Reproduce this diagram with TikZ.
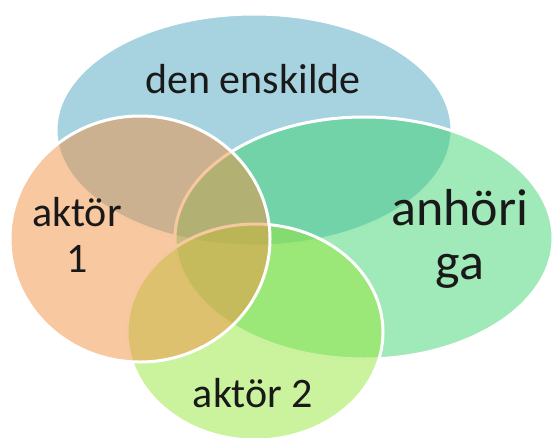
\documentclass[tikz,border=0pt]{standalone}
\usepackage{fontspec}
\setmainfont{Carlito}
\usetikzlibrary{shapes.geometric}

\definecolor{blueset}{RGB}{77,167,191}
\definecolor{greenset}{RGB}{65,211,113}
\definecolor{orangeset}{RGB}{241,145,65}
\definecolor{limeset}{RGB}{151,229,57}

\tikzset{
    venn/.style={ellipse, draw=white, line width=3pt, fill opacity=0.5, inner sep=0pt},
    vlabel/.style={anchor=base, align=center, text=black!90, font=\fontsize{42}{46}\selectfont}
}

\begin{document}
\begin{tikzpicture}[x=1pt,y=-1pt]
        \clip (0,0) rectangle (553,437);

        % Draw the sets, back to front
        \foreach \name/\x/\y/\w/\h/\col in {enskilde/254/130/396/232/blueset, anhorig/364/238/378/242/greenset, aktor2/255/332/256/216/limeset, aktor1/140/239/260/246/orangeset} {
            \node[venn, fill=\col, minimum width=\w pt, minimum height=\h pt] (\name) at (\x,\y) {};
        };

        % Labels (base = last line)
        \node[vlabel] (t-enskilde) at (253,93) {den enskilde};
        \node[vlabel] (t-aktor1) at (77,272) {aktör\\1};
        \node[vlabel, font=\fontsize{52}{54}\selectfont] (t-anhorig) at (460,279) {anhöri\\ga};
        \node[vlabel] (t-aktor2) at (253,407) {aktör 2};
    \end{tikzpicture}
\end{document}
